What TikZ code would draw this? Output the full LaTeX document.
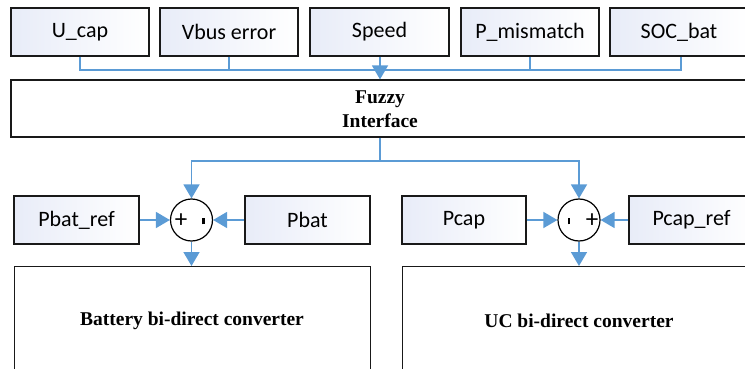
\documentclass[tikz,border=0pt]{standalone}
\usepackage{fontspec}
\setmainfont{Liberation Serif}
\newfontfamily\boxfont{Carlito}
\newfontfamily\labelserif{Liberation Serif}
\usetikzlibrary{arrows.meta}
\definecolor{linkblue}{HTML}{5B9BD5}
\definecolor{boxtint}{HTML}{E8ECF8}
\tikzset{
  inbox/.style={draw=black!90, line width=1.2pt, left color=boxtint, right color=white,
    minimum height=48pt, inner sep=0pt, font=\boxfont\fontsize{22}{24}\selectfont},
  plainbox/.style={draw=black!90, line width=1.2pt, fill=white, inner sep=0pt},
  boldlabel/.style={inner sep=0pt, align=center, font=\labelserif\bfseries\fontsize{19.5}{24}\selectfont},
  sumnode/.style={draw=black, line width=1.2pt, circle, minimum size=42pt, inner sep=0pt, fill=white},
  link/.style={draw=linkblue, line width=1.6pt},
  linkarrow/.style={link, -{Triangle[length=14pt,width=16pt]}},
  signtext/.style={inner sep=0pt, font=\boxfont\fontsize{25}{25}\selectfont}
}
\begin{document}
\begin{tikzpicture}[x=1pt,y=-1pt]
\useasboundingbox (0,0) rectangle (745,369);

% input variables
\node[inbox, minimum width=138pt] (ucap) at (80,32) {U\_cap};
\node[inbox, minimum width=138pt] (vbus) at (229,32) {Vbus error};
\node[inbox, minimum width=139pt] (speed) at (379.5,32) {Speed};
\node[inbox, minimum width=138pt] (pmis) at (530,32) {P\_mismatch};
\node[inbox, minimum width=138pt] (soc) at (679,32) {SOC\_bat};

% fuzzy block
\node[plainbox, minimum width=746pt, minimum height=57pt] (fuzzy) at (384,108.5) {};
\node[boldlabel] (fuzzytext) at (380,109) {Fuzzy\\Interface};

% collector bus into the fuzzy block
\coordinate (busL) at (80,70);
\coordinate (busR) at (681,70);
\draw[link] (ucap.south) -- (busL) -- (busR) -- (soc.south -| busR);
\draw[link] (vbus.south) -- (vbus.south |- busL);
\draw[link] (pmis.south) -- (pmis.south |- busL);
\draw[linkarrow] (speed.south -| 380,0) -- (fuzzy.north -| 380,0);

% summing junctions
\node[sumnode] (sumL) at (191.5,220) {};
\node[sumnode] (sumR) at (579,220) {};
\node[signtext] (plusL) at (181,221) {+};
\node[inner sep=0pt] (minusL) at (203.5,221) {\rule{2.8pt}{6.5pt}};
\node[inner sep=0pt] (minusR) at (569,221) {\rule{2.8pt}{6.5pt}};
\node[signtext] (plusR) at (592,221) {+};

% power references and measurements
\node[inbox, minimum width=125pt] (pbatref) at (76.5,220) {Pbat\_ref};
\node[inbox, minimum width=125pt] (pbat) at (307.5,220) {Pbat};
\node[inbox, minimum width=124pt] (pcap) at (464,220) {Pcap};
\node[inbox, minimum width=125pt] (pcapref) at (691.5,220) {Pcap\_ref};

% converters
\node[plainbox, minimum width=356pt, minimum height=130pt, anchor=north west] (batconv) at (14,266) {};
\node[boldlabel] (battext) at (192,321) {Battery bi-direct converter};
\node[plainbox, minimum width=360pt, minimum height=130pt, anchor=north west] (ucconv) at (402,266) {};
\node[boldlabel] (uctext) at (579,321) {UC bi-direct converter};

% fuzzy outputs to the junctions
\coordinate (split) at (380,161);
\draw[link] (fuzzy.south -| split) -- (split);
\draw[linkarrow] (split) -| (sumL.north);
\draw[linkarrow] (split) -| (sumR.north);

% junction inputs
\draw[linkarrow] (pbatref.east) -- (sumL.west);
\draw[linkarrow] (pbat.west) -- (sumL.east);
\draw[linkarrow] (pcap.east) -- (sumR.west);
\draw[linkarrow] (pcapref.west) -- (sumR.east);

% junction outputs
\draw[linkarrow] (sumL.south) -- (batconv.north -| sumL.south);
\draw[linkarrow] (sumR.south) -- (ucconv.north -| sumR.south);
\end{tikzpicture}
\end{document}
